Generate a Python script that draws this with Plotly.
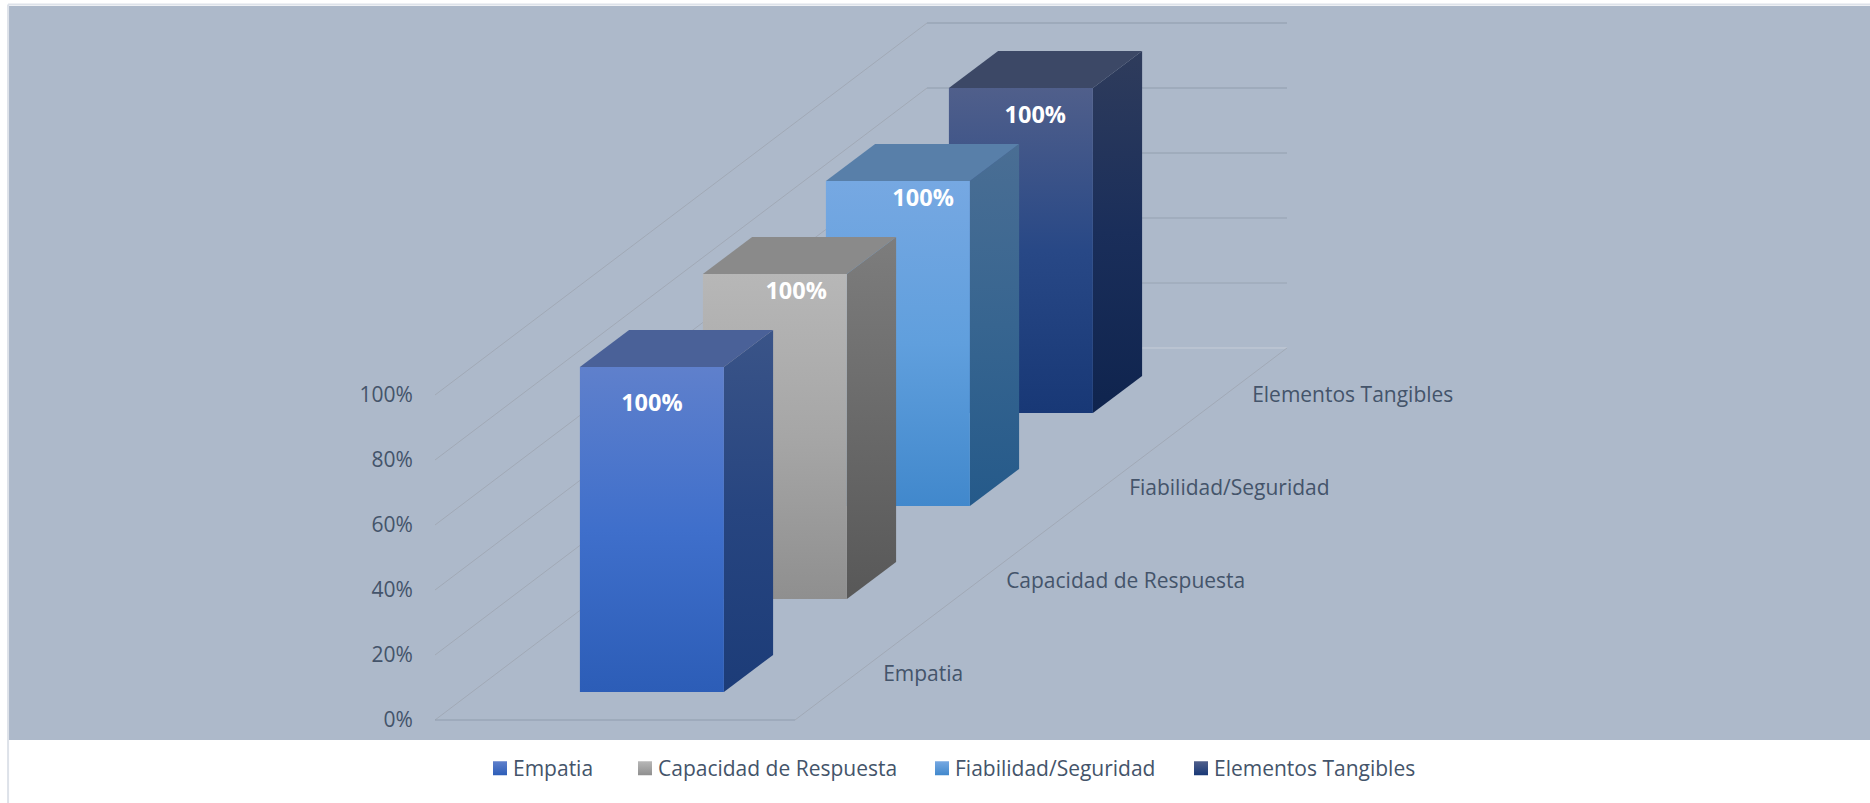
import plotly.graph_objects as go

# ---- data ----
categories = ["Empatia", "Capacidad de Respuesta", "Fiabilidad/Seguridad", "Elementos Tangibles"]
values = [1.0, 1.0, 1.0, 1.0]
value_ticks = [0, 0.2, 0.4, 0.6, 0.8, 1.0]
tick_labels = ["0%", "20%", "40%", "60%", "80%", "100%"]

# ---- styles: (front top, mid, bottom), (side top, mid, bottom), top face ----
front_colors = [("#5F80CC", "#3F6FCB", "#2C5DB7"), ("#B7B7B7", "#A6A6A6", "#8F8F8F"),
                ("#76A8E2", "#609FDD", "#4188CC"), ("#505F8B", "#284886", "#183876")]
side_colors = [("#3A5488", "#274580", "#1C3C78"), ("#7D7D7D", "#6A6A6A", "#585858"),
               ("#4A6E94", "#376590", "#255A8A"), ("#2F3C5C", "#1A2E5A", "#0F244E")]
top_colors = ["#4A6198", "#8A8A8A", "#587FA9", "#3C4866"]
back_line_colors = ["#C6CDD8", "#98A4B3", "#95A1B1", "#929FAE", "#909DAD", "#8E9BAB"]
label_du = [0.0, 0.059, 0.07, 0.04]
label_dv = [0.117, 0.057, 0.059, 0.088]
DIAGONAL = "#A1A9B6"

PANEL = "#ADB9CA"
TEXT = "#44546A"
FONT = "Open Sans"
# oblique projection of the 3-D chart box onto the 2-D axes
KX, KY = 123 / 360, 93 / 325
BAR_U = (0.3, 0.7)
BAR_D = (0.3, 0.7)


def project(u, d, v):
    return u + KX * d, v + KY * d


def poly(points, **kw):
    xy = [project(*p) for p in points]
    xs = [p[0] for p in xy] + [xy[0][0]]
    ys = [p[1] for p in xy] + [xy[0][1]]
    return go.Scatter(x=xs, y=ys, mode="lines", fill="toself", line=dict(width=0),
                      hoverinfo="skip", showlegend=False, **kw)


def grad(top, mid, bottom):
    return dict(type="vertical", colorscale=[[0, bottom], [0.5, mid], [1, top]])


fig = go.Figure()
depth = len(categories)

# walls and floor lines
for k, v in enumerate(value_ticks):
    x, y = zip(project(0, 0, v), project(0, depth, v))
    fig.add_trace(go.Scatter(x=x, y=y, mode="lines", line=dict(color=DIAGONAL, width=1),
                             hoverinfo="skip", showlegend=False))
    x, y = zip(project(0, depth, v), project(1, depth, v))
    fig.add_trace(go.Scatter(x=x, y=y, mode="lines", line=dict(color=back_line_colors[k], width=1),
                             hoverinfo="skip", showlegend=False))
x, y = zip(project(0, 0, 0), project(1, 0, 0))
fig.add_trace(go.Scatter(x=x, y=y, mode="lines", line=dict(color="#8F9CAD", width=1), hoverinfo="skip", showlegend=False))
x, y = zip(project(1, 0, 0), project(1, depth, 0))
fig.add_trace(go.Scatter(x=x, y=y, mode="lines", line=dict(color=DIAGONAL, width=1), hoverinfo="skip", showlegend=False))

# bars, from back to front
u0, u1 = BAR_U
for i in reversed(range(depth)):
    d0, d1 = i + BAR_D[0], i + BAR_D[1]
    val = values[i]
    fig.add_trace(poly([(u1, d0, 0), (u1, d1, 0), (u1, d1, val), (u1, d0, val)],
                       fillgradient=grad(*side_colors[i])))
    fig.add_trace(poly([(u0, d0, val), (u1, d0, val), (u1, d1, val), (u0, d1, val)],
                       fillcolor=top_colors[i]))
    fig.add_trace(poly([(u0, d0, 0), (u1, d0, 0), (u1, d0, val), (u0, d0, val)],
                       fillgradient=grad(*front_colors[i])))

# data labels
for i in range(depth):
    lx, ly = project(0.5 + label_du[i], i + BAR_D[0], values[i] - label_dv[i])
    fig.add_trace(go.Scatter(x=[lx], y=[ly], mode="text", text=[f"{values[i]:.0%}"],
                             textposition="middle center",
                             textfont=dict(family=FONT, size=23.5, color="white", weight="bold"),
                             hoverinfo="skip", showlegend=False))

# category labels on the floor
for i, c in enumerate(categories):
    lx, ly = project(1.074, i + 0.5, -0.008)
    fig.add_trace(go.Scatter(x=[lx], y=[ly], mode="text", text=[c], textposition="middle right",
                             textfont=dict(family=FONT, size=21, color=TEXT),
                             hoverinfo="skip", showlegend=False))

# legend entries, one legend each so that spacing can follow the reference
L, R, T, B = 9, 1870, 6, 740
legend_left_px = [487, 632, 929, 1188]
layout_legends = {}
for i, c in enumerate(categories):
    key = "legend" if i == 0 else f"legend{i + 1}"
    fig.add_trace(go.Scatter(x=[None], y=[None], mode="markers", name=c, legend=key,
                             marker=dict(symbol="square", size=14, color=front_colors[i][0],
                                         angle=90, standoff=7,
                                         gradient=dict(type="vertical", color=front_colors[i][2]))))
    layout_legends[key] = dict(x=(legend_left_px[i] - L) / (R - L), y=-0.039, xanchor="left", yanchor="middle",
                               orientation="h", bgcolor="rgba(0,0,0,0)", itemclick=False, indentation=-14,
                               font=dict(family=FONT, size=21, color=TEXT))

X_RANGE = [(L - 435) / 360, (R - 435) / 360]
Y_RANGE = [(720 - B) / 325, (720 - T) / 325]

fig.update_layout(
    width=1870, height=803, paper_bgcolor="white", plot_bgcolor=PANEL,
    margin=dict(l=L, r=1870 - R, t=T, b=803 - B, pad=0, autoexpand=False),
    xaxis=dict(range=X_RANGE, visible=False),
    yaxis=dict(range=Y_RANGE, anchor="free", position=(435 - L) / (R - L), tickvals=value_ticks,
               ticktext=tick_labels, ticks="outside", ticklen=18, tickcolor="rgba(0,0,0,0)",
               showgrid=False, zeroline=False, showline=False,
               tickfont=dict(family=FONT, size=21, color=TEXT)),
    shapes=[
        dict(type="line", xref="paper", yref="paper", x0=-0.0005, x1=-0.0005, y0=1.002, y1=-0.0858,
             line=dict(color="#DDE2E9", width=2)),
        dict(type="line", xref="paper", yref="paper", x0=-0.0005, x1=1, y0=1.002, y1=1.002,
             line=dict(color="#DDE2E9", width=2)),
    ],
    **layout_legends,
)

fig.write_html("out.html", config={"displayModeBar": False}, post_script="document.body.style.margin='0';")
